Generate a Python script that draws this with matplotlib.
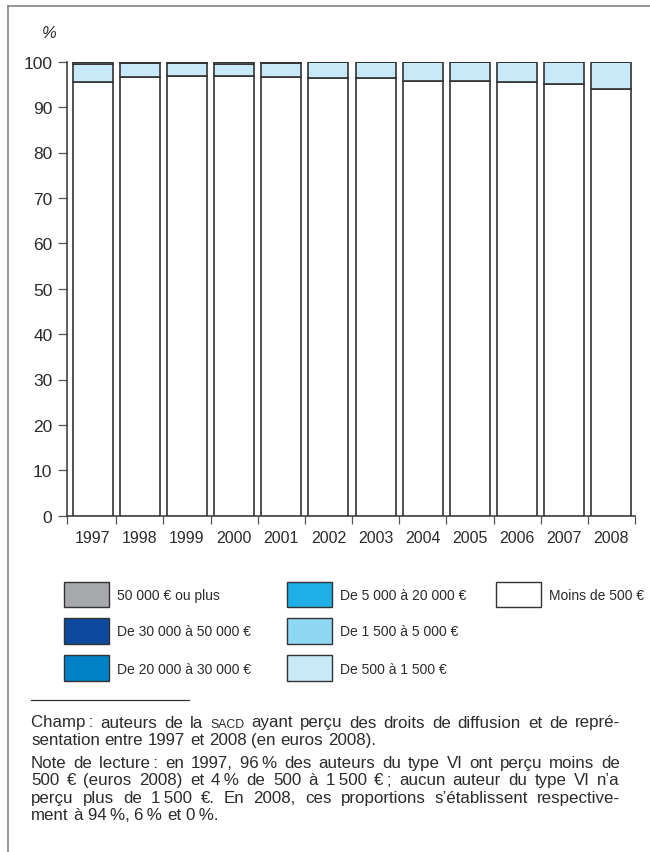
import matplotlib
matplotlib.use("Agg")
import matplotlib.pyplot as plt
from matplotlib.patches import Rectangle
from matplotlib.lines import Line2D
import numpy as np

# ---------------- data ----------------
years = ["1997", "1998", "1999", "2000", "2001", "2002",
         "2003", "2004", "2005", "2006", "2007", "2008"]
moins_500 = [95.5, 96.7, 96.9, 96.9, 96.6, 96.5, 96.3, 95.7, 95.8, 95.6, 95.1, 94.0]
de_500_1500 = [4.1, 3.0, 2.8, 2.7, 3.2, 3.5, 3.7, 4.3, 4.2, 4.4, 4.9, 6.0]
de_1500_5000 = [0.4, 0.3, 0.3, 0.4, 0.2, 0, 0, 0, 0, 0, 0, 0]
de_5000_20000 = [0] * 12
de_20000_30000 = [0] * 12
de_30000_50000 = [0] * 12
plus_50000 = [0] * 12

series_labels = ["Moins de 500 €", "De 500 à 1 500 €", "De 1 500 à 5 000 €",
                 "De 5 000 à 20 000 €", "De 20 000 à 30 000 €",
                 "De 30 000 à 50 000 €", "50 000 € ou plus"]
series_values = [moins_500, de_500_1500, de_1500_5000, de_5000_20000,
                 de_20000_30000, de_30000_50000, plus_50000]
series_colors = ["#ffffff", "#c7e9f8", "#8ed8f6", "#1eb0e6",
                 "#0081c6", "#0d4a9e", "#a7a9ac"]
legend_order = [6, 5, 4, 3, 2, 1, 0]  # column-major: col1, col2, col3
yticks = [0, 10, 20, 30, 40, 50, 60, 70, 80, 90, 100]

note_para1 = ["Champ\u2009: auteurs de la SACD ayant perçu des droits de diffusion et de repré-",
              "sentation entre 1997 et 2008 (en euros 2008)."]
note_para2 = ["Note de lecture\u2009: en 1997, 96\u2009% des auteurs du type VI ont perçu moins de",
              "500 € (euros 2008) et 4\u2009% de 500 à 1\u2009500 €\u2009; aucun auteur du type VI n’a",
              "perçu plus de 1\u2009500 €. En 2008, ces proportions s’établissent respective-",
              "ment à 94\u2009%, 6\u2009% et 0\u2009%."]

# ---------------- figure ----------------
W, H = 650, 853
fig = plt.figure(figsize=(W / 100, H / 100), dpi=100)
fig.patch.set_facecolor("white")

NARROW = ["Liberation Sans", "DejaVu Sans"]
SANS = ["Liberation Sans", "DejaVu Sans"]
TXT = "#2b2b2b"

ax_l, ax_r, ax_b, ax_t = 66.7, 635.0, 516.7, 62.7
ax = fig.add_axes([ax_l / W, (H - ax_b) / H, (ax_r - ax_l) / W, (ax_b - ax_t) / H])

x = np.arange(len(years))
bottom = np.zeros(len(years))
for vals, col in zip(series_values, series_colors):
    v = np.array(vals, dtype=float)
    ax.bar(x, v, bottom=bottom, width=0.85, color=col, edgecolor="#333333",
           linewidth=1.2, zorder=3)
    bottom += v

ax.set_xlim(-0.55, 11.49)
ax.set_ylim(0, 100)
for s in ["top", "right"]:
    ax.spines[s].set_visible(False)
for s in ["left", "bottom"]:
    ax.spines[s].set_color("#333333")
    ax.spines[s].set_linewidth(1.1)

ax.set_yticks(yticks)
ax.set_yticklabels([str(t) for t in yticks], family=NARROW, fontsize=12.5, color=TXT)
ax.tick_params(axis="y", direction="out", length=6.3, width=0.9, color="#555555", pad=4)

ax.set_xticks([-0.55] + [k + 0.5 for k in range(12)])
ax.set_xticklabels([])
ax.set_xticks(x, minor=True)
ax.set_xticklabels(years, minor=True, family=NARROW, fontsize=11.5, color=TXT)
ax.tick_params(axis="x", which="major", direction="out", length=6, width=0.9, color="#555555")
ax.tick_params(axis="x", which="minor", length=0, pad=10)

# ---------------- overlay in pixel coordinates ----------------
ov = fig.add_axes([0, 0, 1, 1], zorder=5)
ov.set_xlim(0, W)
ov.set_ylim(H, 0)
ov.axis("off")
ov.patch.set_alpha(0)

# frame lines
ov.add_line(Line2D([8.3, 8.3], [6.7, H], color="#7a7a7a", lw=1.1))
ov.add_line(Line2D([8.3, W], [6.7, 6.7], color="#7a7a7a", lw=1.1))

# % label
ov.text(49, 33, "%", family=NARROW, fontsize=12, color=TXT, ha="center", va="center",
        style="italic")

# legend
col_px = [64.3, 287.0, 496.0]
col_tx = [116.7, 339.6, 549.0]
row_cy = [595.5, 632.0, 669.0]
pw, ph = 44.7, 25.6
for i, si in enumerate(legend_order):
    c, r = i // 3, i % 3
    ov.add_patch(Rectangle((col_px[c], row_cy[r] - ph / 2), pw, ph,
                           facecolor=series_colors[si], edgecolor="#333333", lw=1.0))
    ov.text(col_tx[c], row_cy[r] + 0.5, series_labels[si], family=NARROW, fontsize=10,
            color=TXT, ha="left", va="center")

# separator
ov.add_line(Line2D([31, 189], [700.7, 700.7], color="#333333", lw=0.9))

# justified notes
renderer = fig.canvas.get_renderer()
X0, X1 = 31.0, 620.0
FS = 12.2


def draw_line(line, y, justify):
    words = line.split(" ")
    texts = []
    for w in words:
        if w == "SACD":
            t = ov.text(0, y, "SACD", family=SANS, fontsize=FS * 0.72, color=TXT,
                        ha="left", va="baseline")
        else:
            t = ov.text(0, y, w, family=SANS, fontsize=FS, color=TXT,
                        ha="left", va="baseline")
        texts.append(t)
    widths = [t.get_window_extent(renderer).width for t in texts]
    space = ov.text(0, y, "a a", family=SANS, fontsize=FS)
    sp = space.get_window_extent(renderer).width
    aw = ov.text(0, y, "aa", family=SANS, fontsize=FS)
    sp -= aw.get_window_extent(renderer).width
    space.remove()
    aw.remove()
    if justify and len(texts) > 1:
        gap = (X1 - X0 - sum(widths)) / (len(texts) - 1)
    else:
        gap = sp
    xpos = X0
    for t, wd in zip(texts, widths):
        t.set_x(xpos)
        xpos += wd + gap


baselines1 = [727.5, 745.0]
baselines2 = [768.0, 785.5, 803.0, 820.5]
for i, (ln, yb) in enumerate(zip(note_para1, baselines1)):
    draw_line(ln, yb, i < len(note_para1) - 1)
for i, (ln, yb) in enumerate(zip(note_para2, baselines2)):
    draw_line(ln, yb, i < len(note_para2) - 1)

fig.savefig("out.png", dpi=100, facecolor="white")
